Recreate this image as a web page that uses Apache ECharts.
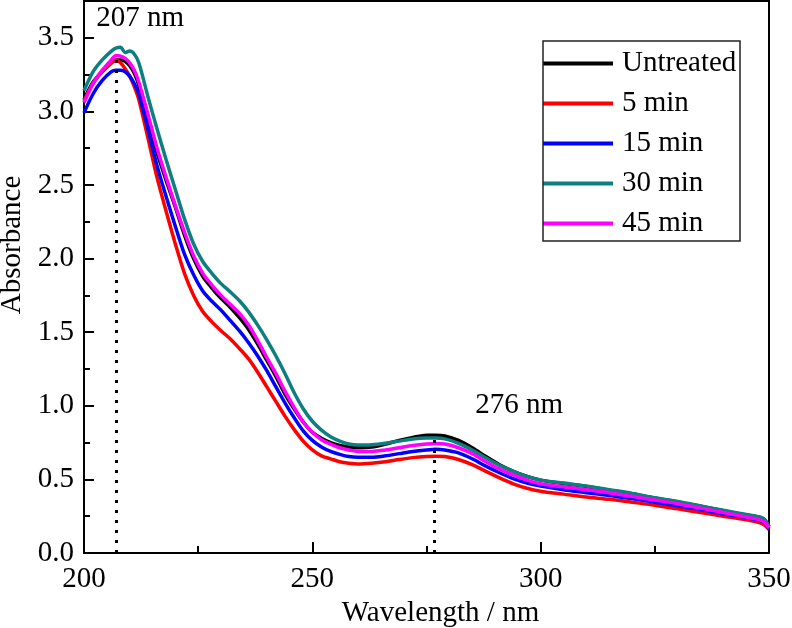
<!DOCTYPE html>
<html>
<head>
<meta charset="utf-8">
<script src="https://cdn.jsdelivr.net/npm/echarts@6/dist/echarts.min.js"></script>
<style>
  html, body { margin: 0; padding: 0; background: #fff; }
  #chart { width: 792px; height: 628px; }
</style>
</head>
<body>
<div id="chart"></div>
<script>
// wavelength grid (nm)
const wavelengths = [200, 202, 204, 206, 207, 208, 209, 210, 211, 212, 214, 216, 218, 220, 222, 224, 226, 228, 230, 232,
  234, 236, 238, 240, 242, 244, 246, 248, 250, 252, 254, 256, 258, 260, 263, 266, 269, 272, 275, 277,
  279, 282, 285, 288, 291, 294, 297, 300, 305, 310, 315, 320, 325, 330, 335, 340, 345, 348, 349, 350]

const untreated = [3.08, 3.20, 3.27, 3.33, 3.35, 3.35, 3.34, 3.31, 3.26, 3.18, 2.95, 2.72, 2.53, 2.35, 2.16, 2.00, 1.88, 1.80, 1.73, 1.67,
  1.60, 1.52, 1.42, 1.31, 1.20, 1.08, 0.98, 0.89, 0.82, 0.78, 0.75, 0.73, 0.72, 0.715, 0.72, 0.74, 0.765, 0.785, 0.80, 0.80,
  0.795, 0.765, 0.715, 0.655, 0.60, 0.555, 0.52, 0.495, 0.472, 0.452, 0.427, 0.402, 0.372, 0.347, 0.317, 0.287, 0.258, 0.242, 0.227, 0.178]

const min5 = [3.07, 3.19, 3.27, 3.33, 3.35, 3.33, 3.29, 3.24, 3.17, 3.08, 2.82, 2.55, 2.32, 2.10, 1.90, 1.75, 1.64, 1.57, 1.51, 1.455,
  1.39, 1.32, 1.23, 1.13, 1.03, 0.93, 0.84, 0.76, 0.70, 0.66, 0.64, 0.62, 0.61, 0.605, 0.61, 0.62, 0.635, 0.648, 0.656, 0.658,
  0.655, 0.635, 0.60, 0.555, 0.51, 0.47, 0.44, 0.42, 0.40, 0.38, 0.365, 0.345, 0.325, 0.30, 0.275, 0.25, 0.225, 0.205, 0.19, 0.16]

const min15 = [2.99, 3.12, 3.21, 3.27, 3.28, 3.28, 3.27, 3.24, 3.19, 3.12, 2.88, 2.63, 2.42, 2.22, 2.03, 1.89, 1.78, 1.71, 1.65, 1.58,
  1.51, 1.43, 1.34, 1.24, 1.13, 1.02, 0.92, 0.83, 0.765, 0.72, 0.69, 0.67, 0.655, 0.65, 0.65, 0.66, 0.675, 0.69, 0.70, 0.704,
  0.70, 0.68, 0.64, 0.59, 0.545, 0.505, 0.475, 0.455, 0.43, 0.41, 0.39, 0.37, 0.345, 0.32, 0.295, 0.265, 0.24, 0.22, 0.205, 0.165]

const min30 = [3.14, 3.27, 3.35, 3.41, 3.43, 3.435, 3.40, 3.41, 3.39, 3.33, 3.10, 2.88, 2.67, 2.47, 2.27, 2.10, 1.98, 1.90, 1.83, 1.775,
  1.715, 1.64, 1.55, 1.45, 1.34, 1.22, 1.09, 0.98, 0.895, 0.835, 0.79, 0.76, 0.74, 0.733, 0.735, 0.745, 0.76, 0.775, 0.782, 0.782,
  0.775, 0.745, 0.70, 0.645, 0.595, 0.555, 0.52, 0.495, 0.475, 0.455, 0.43, 0.405, 0.375, 0.35, 0.32, 0.29, 0.262, 0.245, 0.23, 0.18]

const min45 = [3.06, 3.19, 3.28, 3.35, 3.38, 3.375, 3.36, 3.33, 3.28, 3.20, 2.98, 2.75, 2.55, 2.36, 2.18, 2.02, 1.90, 1.82, 1.75, 1.69,
  1.63, 1.55, 1.445, 1.33, 1.22, 1.10, 0.99, 0.89, 0.82, 0.77, 0.74, 0.715, 0.70, 0.69, 0.69, 0.70, 0.715, 0.73, 0.74, 0.744,
  0.74, 0.715, 0.675, 0.62, 0.57, 0.53, 0.495, 0.47, 0.45, 0.43, 0.41, 0.385, 0.36, 0.335, 0.305, 0.275, 0.245, 0.225, 0.21, 0.17]

const seriesNames = ['Untreated', '5 min', '15 min', '30 min', '45 min']
const seriesColors = ['#000000', '#ff0000', '#0000ff', '#0d7f7f', '#ff00ff']
const seriesValues = [untreated, min5, min15, min30, min45]

// peak markers: dotted drop lines and their labels
const peakWavelengths = [207, 276.8]
const peakTops = [3.38, 0.80]
const peakLabels = ['207 nm', '276 nm']
const peakLabelPos = [[212.3, 3.63], [295.3, 1.0]]

const FONT = "'Liberation Serif', 'Times New Roman', serif"

const chart = echarts.init(document.getElementById('chart'))

const curves = seriesNames.map((name, i) => ({
  name,
  type: 'line',
  data: wavelengths.map((w, j) => [w, seriesValues[i][j]]),
  smooth: 0.3,
  symbol: 'none',
  lineStyle: { color: seriesColors[i], width: 3.5 },
  itemStyle: { color: seriesColors[i] },
  z: 3,
}))

chart.setOption({
  animation: false,
  backgroundColor: '#fff',
  grid: {
    left: 84, right: 23, top: 1, bottom: 75,
    outerBoundsMode: 'none',
    show: true, borderColor: '#000', borderWidth: 2, backgroundColor: 'transparent',
  },
  legend: {
    data: seriesNames,
    orient: 'vertical',
    left: 543, top: 49,
    icon: 'rect',
    itemWidth: 70, itemHeight: 4,
    itemGap: 11,
    padding: 0,
    textStyle: { fontFamily: FONT, fontSize: 29, color: '#000', lineHeight: 29, padding: [0, 0, 0, 4] },
  },
  xAxis: {
    type: 'value',
    min: 200, max: 350, interval: 50,
    name: 'Wavelength / nm',
    nameLocation: 'middle',
    nameGap: 42,
    nameTextStyle: { fontFamily: FONT, fontSize: 29, color: '#000', padding: [0, 0, 0, 28] },
    axisLine: { show: true, lineStyle: { color: '#000', width: 2 } },
    axisTick: { inside: true, length: 11, lineStyle: { color: '#000', width: 2 } },
    minorTick: { show: true, splitNumber: 2, length: 7, lineStyle: { color: '#000', width: 2 } },
    axisLabel: { fontFamily: FONT, fontSize: 29, color: '#000', margin: 12 },
    splitLine: { show: false },
  },
  yAxis: {
    type: 'value',
    min: 0, max: 3.75, interval: 0.5,
    name: 'Absorbance',
    nameLocation: 'middle',
    nameGap: 54,
    nameTextStyle: { fontFamily: FONT, fontSize: 29, color: '#000', padding: [0, 0, 0, 64] },
    axisLine: { show: true, lineStyle: { color: '#000', width: 2 } },
    axisTick: { inside: true, length: 10, lineStyle: { color: '#000', width: 2 } },
    minorTick: { show: true, splitNumber: 2, length: 6, lineStyle: { color: '#000', width: 2 } },
    axisLabel: { fontFamily: FONT, fontSize: 29, color: '#000', margin: 10, showMaxLabel: false,
      formatter: v => v.toFixed(1) },
    splitLine: { show: false },
  },
  series: [
    {
      name: 'peaks',
      type: 'line',
      data: [],
      z: 2,
      markLine: {
        silent: true,
        symbol: 'none',
        label: { show: false },
        lineStyle: { color: '#000', width: 3, type: [3, 7] },
        data: peakWavelengths.map((w, i) => [{ coord: [w, 0] }, { coord: [w, peakTops[i]] }]),
      },
    },
    ...curves,
  ],
})

// legend frame and peak labels, placed after layout
const labelGraphics = peakLabels.map((t, i) => {
  const [px, py] = chart.convertToPixel({ gridIndex: 0 }, peakLabelPos[i])
  return {
    type: 'text', x: px, y: py, z: 10,
    style: { text: t, font: `29px ${FONT}`, fill: '#000', align: 'center', verticalAlign: 'middle' },
  }
})

chart.setOption({
  graphic: [
    { type: 'rect', shape: { x: 543, y: 41, width: 197, height: 200 }, z: 10,
      style: { fill: 'none', stroke: '#222', lineWidth: 1.5 } },
    ...labelGraphics,
  ],
})
</script>
</body>
</html>
